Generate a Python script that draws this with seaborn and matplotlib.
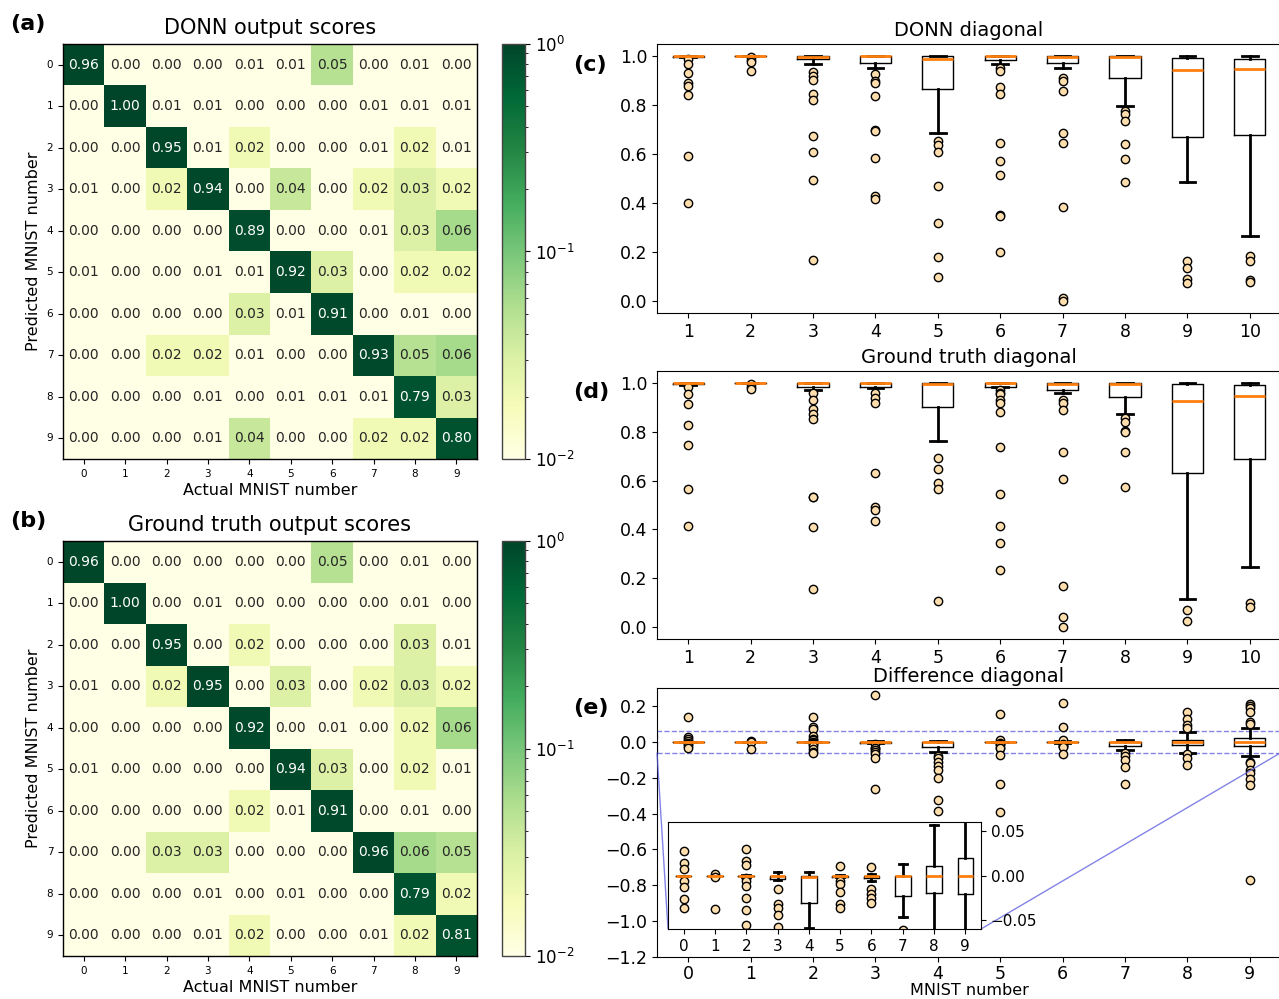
import numpy as np
import matplotlib
matplotlib.use("Agg")
import matplotlib.pyplot as plt
import seaborn as sns
from matplotlib.colors import LogNorm
from mpl_toolkits.axes_grid1.inset_locator import mark_inset

# ---------------- heatmap data (rows = predicted, cols = actual) ----------------
digits = list(range(10))

donn_scores = [
    [0.96, 0.00, 0.00, 0.00, 0.01, 0.01, 0.05, 0.00, 0.01, 0.00],
    [0.00, 1.00, 0.01, 0.01, 0.00, 0.00, 0.00, 0.01, 0.01, 0.01],
    [0.00, 0.00, 0.95, 0.01, 0.02, 0.00, 0.00, 0.01, 0.02, 0.01],
    [0.01, 0.00, 0.02, 0.94, 0.00, 0.04, 0.00, 0.02, 0.03, 0.02],
    [0.00, 0.00, 0.00, 0.00, 0.89, 0.00, 0.00, 0.01, 0.03, 0.06],
    [0.01, 0.00, 0.00, 0.01, 0.01, 0.92, 0.03, 0.00, 0.02, 0.02],
    [0.00, 0.00, 0.00, 0.00, 0.03, 0.01, 0.91, 0.00, 0.01, 0.00],
    [0.00, 0.00, 0.02, 0.02, 0.01, 0.00, 0.00, 0.93, 0.05, 0.06],
    [0.00, 0.00, 0.00, 0.01, 0.00, 0.01, 0.01, 0.01, 0.79, 0.03],
    [0.00, 0.00, 0.00, 0.01, 0.04, 0.00, 0.00, 0.02, 0.02, 0.80],
]

truth_scores = [
    [0.96, 0.00, 0.00, 0.00, 0.00, 0.00, 0.05, 0.00, 0.01, 0.00],
    [0.00, 1.00, 0.00, 0.01, 0.00, 0.00, 0.00, 0.00, 0.01, 0.00],
    [0.00, 0.00, 0.95, 0.00, 0.02, 0.00, 0.00, 0.00, 0.03, 0.01],
    [0.01, 0.00, 0.02, 0.95, 0.00, 0.03, 0.00, 0.02, 0.03, 0.02],
    [0.00, 0.00, 0.00, 0.00, 0.92, 0.00, 0.01, 0.00, 0.02, 0.06],
    [0.01, 0.00, 0.00, 0.00, 0.00, 0.94, 0.03, 0.00, 0.02, 0.01],
    [0.00, 0.00, 0.00, 0.00, 0.02, 0.01, 0.91, 0.00, 0.01, 0.00],
    [0.00, 0.00, 0.03, 0.03, 0.00, 0.00, 0.00, 0.96, 0.06, 0.05],
    [0.00, 0.00, 0.00, 0.01, 0.00, 0.01, 0.00, 0.00, 0.79, 0.02],
    [0.00, 0.00, 0.00, 0.01, 0.02, 0.00, 0.00, 0.01, 0.02, 0.81],
]

# ---------------- box plot statistics ----------------
# (c) DONN diagonal, positions 1..10
donn_med = [1.0, 1.0, 0.996, 1.0, 0.988, 1.0, 0.996, 0.996, 0.944, 0.948]
donn_q1 = [0.996, 1.0, 0.988, 0.971, 0.867, 0.984, 0.974, 0.912, 0.668, 0.676]
donn_q3 = [1.0, 1.0, 1.0, 1.0, 1.0, 1.0, 1.0, 1.0, 0.993, 0.989]
donn_lo = [0.995, 1.0, 0.969, 0.952, 0.688, 0.969, 0.951, 0.795, 0.487, 0.265]
donn_hi = [1.0, 1.0, 1.0, 1.0, 1.0, 1.0, 1.0, 1.0, 1.0, 1.0]
donn_fliers = [
    [0.99, 0.97, 0.93, 0.89, 0.88, 0.84, 0.59, 0.40],
    [0.995, 0.985, 0.975, 0.94],
    [0.936, 0.919, 0.902, 0.844, 0.819, 0.674, 0.609, 0.492, 0.166],
    [0.926, 0.899, 0.889, 0.839, 0.700, 0.696, 0.584, 0.427, 0.417],
    [0.653, 0.636, 0.607, 0.469, 0.319, 0.179, 0.097],
    [0.953, 0.938, 0.874, 0.847, 0.647, 0.570, 0.513, 0.352, 0.345, 0.200],
    [0.910, 0.899, 0.859, 0.687, 0.647, 0.382, 0.012, 0.0],
    [0.778, 0.765, 0.737, 0.642, 0.581, 0.484],
    [0.163, 0.133, 0.088, 0.074],
    [0.185, 0.163, 0.083, 0.078],
]

# (d) Ground truth diagonal, positions 1..10
gt_med = [1.0, 1.0, 1.0, 1.0, 0.995, 1.0, 0.996, 0.996, 0.928, 0.947]
gt_q1 = [0.995, 1.0, 0.984, 0.986, 0.903, 0.986, 0.974, 0.943, 0.633, 0.690]
gt_q3 = [1.0, 1.0, 1.0, 1.0, 1.0, 1.0, 1.0, 1.0, 0.996, 0.993]
gt_lo = [0.994, 1.0, 0.971, 0.982, 0.762, 0.984, 0.960, 0.874, 0.116, 0.246]
gt_hi = [1.0, 1.0, 1.0, 1.0, 1.0, 1.0, 1.0, 1.0, 1.0, 1.0]
gt_fliers = [
    [0.985, 0.954, 0.913, 0.828, 0.746, 0.567, 0.415],
    [0.995, 0.985, 0.975],
    [0.960, 0.930, 0.896, 0.873, 0.855, 0.534, 0.531, 0.411, 0.154],
    [0.959, 0.939, 0.919, 0.630, 0.493, 0.478, 0.434],
    [0.693, 0.646, 0.592, 0.564, 0.108],
    [0.974, 0.960, 0.954, 0.930, 0.917, 0.880, 0.740, 0.546, 0.415, 0.346, 0.234],
    [0.930, 0.917, 0.889, 0.716, 0.608, 0.168, 0.040, 0.0],
    [0.859, 0.840, 0.805, 0.798, 0.719, 0.574],
    [0.071, 0.023],
    [0.097, 0.083],
]

# (e) Difference diagonal, positions 0..9
diff_med = [0.0, 0.0, 0.0, 0.0, -0.0015, 0.0, 0.0, -0.0008, 0.0, -0.001]
diff_q1 = [0.0, -0.0005, -0.001, -0.004, -0.031, -0.002, -0.003, -0.023, -0.020, -0.021]
diff_q3 = [0.0, 0.0, 0.0, 0.0, 0.0, 0.0, 0.0, 0.0, 0.0105, 0.0195]
diff_lo = [0.0, -0.001, -0.002, -0.005, -0.059, -0.002, -0.0064, -0.047, -0.063, -0.080]
diff_hi = [0.0, 0.0, 0.001, 0.004, 0.004, 0.0005, 0.002, 0.0124, 0.057, 0.078]
diff_fliers = [
    [0.14, 0.027, 0.0135, 0.007, -0.006, -0.013, -0.026, -0.036],
    [0.002, -0.002, -0.038],
    [0.14, 0.084, 0.069, 0.030, 0.016, 0.012, -0.003, -0.006, -0.012, -0.025, -0.039, -0.055, -0.065],
    [0.263, -0.015, -0.032, -0.036, -0.044, -0.058, -0.07, -0.088, -0.265],
    [-0.080, -0.093, -0.112, -0.136, -0.158, -0.201, -0.322, -0.384],
    [0.155, 0.011, -0.006, -0.010, -0.019, -0.032, -0.036, -0.075, -0.233, -0.39],
    [0.214, 0.080, 0.0098, -0.015, -0.021, -0.025, -0.031, -0.069],
    [-0.061, -0.08, -0.10, -0.14, -0.233],
    [0.164, 0.127, 0.093, 0.078, -0.069, -0.088, -0.132],
    [0.21, 0.20, 0.186, 0.166, 0.112, 0.099, -0.112, -0.121, -0.155, -0.173, -0.209, -0.239, -0.768],
]


def make_stats(med, q1, q3, lo, hi, fliers):
    return [dict(med=m, q1=a, q3=b, whislo=l, whishi=h, fliers=f)
            for m, a, b, l, h, f in zip(med, q1, q3, lo, hi, fliers)]


box_style = dict(
    widths=0.5,
    boxprops=dict(color="k", linewidth=1),
    whiskerprops=dict(color="k", linewidth=2),
    capprops=dict(color="k", linewidth=2),
    medianprops=dict(color="#ff7f0e", linewidth=2),
    flierprops=dict(marker="o", markerfacecolor="navajowhite", markeredgecolor="k",
                    markersize=6, markeredgewidth=1),
)

fig = plt.figure(figsize=(12.79, 9.99), dpi=100)


def px(left, top, right, bottom):
    W, H = 1279, 999
    return [left / W, 1 - bottom / H, (right - left) / W, (bottom - top) / H]


# =====================================================
# Heatmaps (a) and (b)
# =====================================================
norm = LogNorm(vmin=0.01, vmax=1)
heat_panels = [
    (donn_scores, "DONN output scores", "(a)", 44, 459),
    (truth_scores, "Ground truth output scores", "(b)", 541, 956),
]
for scores, title, tag, top, bot in heat_panels:
    ax = fig.add_axes(px(63, top, 477, bot))
    cax = fig.add_axes(px(502, top, 525, bot))
    vals = np.array(scores)
    sns.heatmap(np.clip(vals, 0.01, 1), annot=vals, fmt=".2f", cmap="YlGn", norm=norm,
                annot_kws={"fontsize": 10}, xticklabels=digits, yticklabels=digits,
                ax=ax, cbar_ax=cax)
    for s in ax.spines.values():
        s.set_visible(True)
        s.set_linewidth(1)
    ax.tick_params(labelsize=7.5, length=3.5)
    ax.set_yticklabels(digits, rotation=0)
    ax.set_title(title, fontsize=15, pad=7)
    ax.set_xlabel("Actual MNIST number", fontsize=11.5, labelpad=3)
    ax.set_ylabel("Predicted MNIST number", fontsize=11.5)
    cax.tick_params(labelsize=12)
    cb = ax.collections[0].colorbar
    cb.outline.set_visible(True)
    cb.outline.set_linewidth(1)
    cb.outline.set_edgecolor("#444444")
    fig.text(10 / 1279, 1 - (top - 20) / 999, tag, fontsize=16, fontweight="bold",
             va="center", ha="left")

# =====================================================
# Box plots (c) and (d)
# =====================================================
box_panels = [
    (make_stats(donn_med, donn_q1, donn_q3, donn_lo, donn_hi, donn_fliers),
     "DONN diagonal", "(c)", 44, 313),
    (make_stats(gt_med, gt_q1, gt_q3, gt_lo, gt_hi, gt_fliers),
     "Ground truth diagonal", "(d)", 371, 639),
]
for stats, title, tag, top, bot in box_panels:
    ax = fig.add_axes(px(657, top, 1281, bot))
    ax.bxp(stats, positions=range(1, 11), **box_style)
    ax.set_xlim(0.5, 10.5)
    ax.set_ylim(-0.05, 1.05)
    ax.set_yticks([0.0, 0.2, 0.4, 0.6, 0.8, 1.0])
    ax.tick_params(labelsize=12.5)
    ax.set_title(title, fontsize=14, pad=6)
    fig.text(573 / 1279, 1 - (top + 21) / 999, tag, fontsize=16, fontweight="bold",
             va="center", ha="left")

# =====================================================
# Difference box plot (e) with zoomed inset
# =====================================================
diff_stats = make_stats(diff_med, diff_q1, diff_q3, diff_lo, diff_hi, diff_fliers)

ax_e = fig.add_axes(px(657, 688, 1281, 957))
ax_e.bxp(diff_stats, positions=digits, **box_style)
ax_e.set_xlim(-0.5, 9.5)
ax_e.set_ylim(-1.2, 0.3)
ax_e.set_yticks([-1.2, -1.0, -0.8, -0.6, -0.4, -0.2, 0.0, 0.2])
ax_e.tick_params(labelsize=12.5)
ax_e.tick_params(axis="x", pad=2)
ax_e.set_title("Difference diagonal", fontsize=14, pad=4)
ax_e.set_xlabel("MNIST number", fontsize=11.5, labelpad=0)
fig.text(573 / 1279, 1 - 708 / 999, "(e)", fontsize=16, fontweight="bold",
         va="center", ha="left")

axins = fig.add_axes(px(668, 822, 981, 929))
axins.bxp(diff_stats, positions=digits, **box_style)
axins.set_xlim(-0.5, 9.5)
axins.set_ylim(-0.06, 0.06)
axins.set_yticks([-0.05, 0.0, 0.05])
axins.yaxis.tick_right()
axins.tick_params(labelsize=11)

pp, p1, p2 = mark_inset(ax_e, axins, loc1=3, loc2=4, fc="none", ec="#5a5ae0",
                        lw=1, alpha=0.75, ls="--")
p1.set_linestyle("-")
p2.set_linestyle("-")

fig.savefig("out.png", dpi=100)
